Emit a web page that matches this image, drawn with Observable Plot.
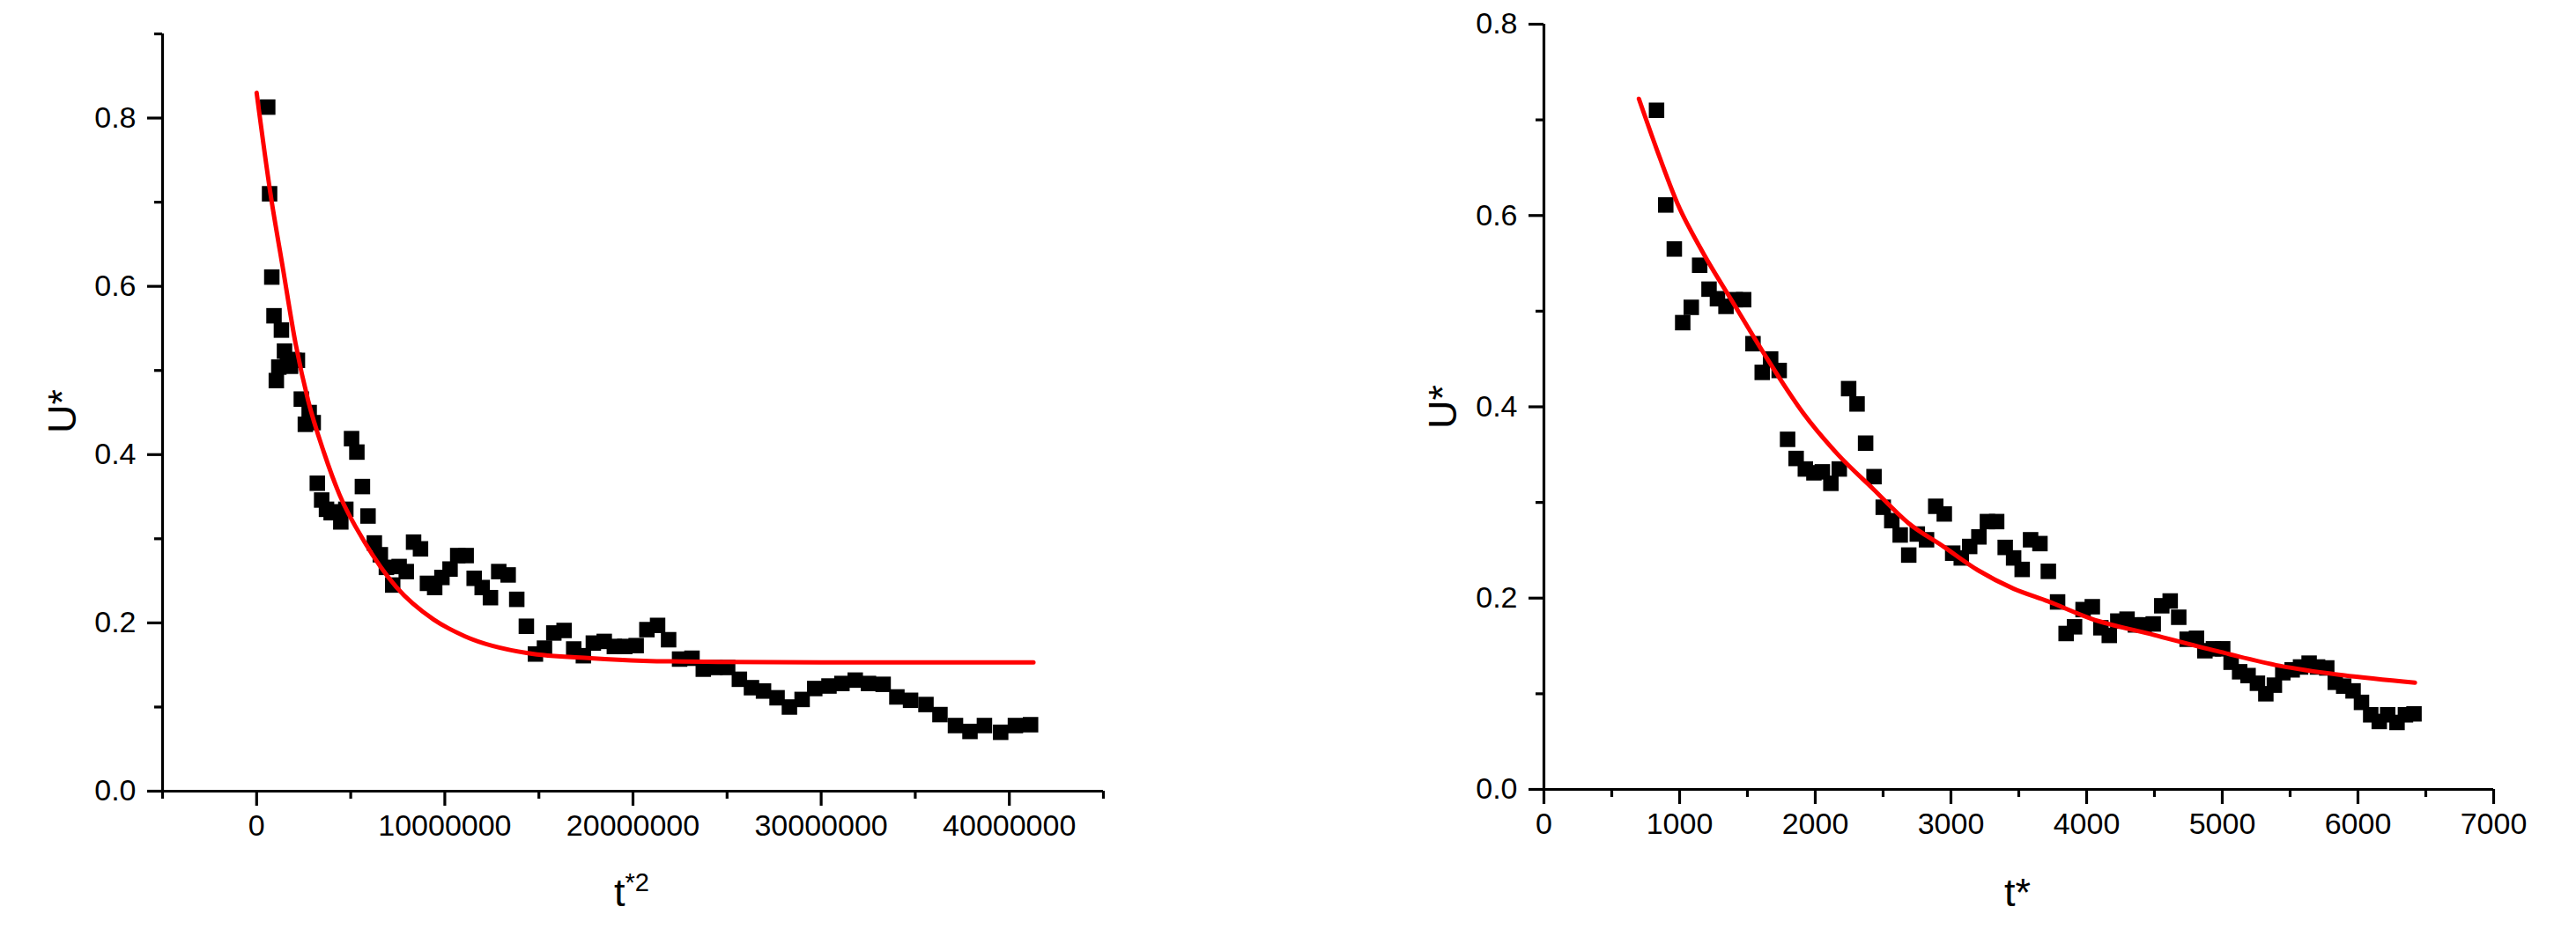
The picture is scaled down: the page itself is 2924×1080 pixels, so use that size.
<!DOCTYPE html>
<html>
<head>
<meta charset="utf-8">
<script src="https://cdn.jsdelivr.net/npm/d3@7"></script>
<script src="https://cdn.jsdelivr.net/npm/@observablehq/plot@0.6"></script>
<style>
  html, body { margin: 0; padding: 0; background: #fff; }
  body { width: 2924px; height: 1080px; position: relative; overflow: hidden; }
  #left, #right { position: absolute; top: 0; }
  #left { left: 0; }
  #right { left: 1500px; }
  svg { display: block; }
</style>
</head>
<body>
<div id="left"></div>
<div id="right"></div>
<script>
// ---- measured data: t* and U* (same series in both panels; left panel uses t*^2 on x) ----
const tStar = [
  767, 830, 898, 961, 1023, 1086, 1148, 1217, 1279, 1342,
  1410, 1472, 1541, 1609, 1671, 1734, 1796, 1859, 1927, 1990,
  2052, 2115, 2177, 2246, 2308, 2371, 2433, 2501, 2564, 2626,
  2689, 2752, 2820, 2888, 2951, 3013, 3076, 3138, 3206, 3269,
  3337, 3400, 3462, 3525, 3587, 3656, 3718, 3786, 3849, 3911,
  3974, 4042, 4105, 4167, 4230, 4298, 4360, 4423, 4491, 4554,
  4616, 4679, 4741, 4810, 4872, 4935, 5003, 5065, 5128, 5190,
  5259, 5321, 5384, 5446, 5515, 5577, 5640, 5702, 5770, 5833,
  5895, 5964, 6026, 6094, 6157, 6219, 6288, 6350, 6413
];
const uStar = [
  0.813, 0.710, 0.611, 0.565, 0.488, 0.504, 0.548, 0.523, 0.513, 0.505,
  0.512, 0.512, 0.466, 0.436, 0.450, 0.438, 0.366, 0.346, 0.335, 0.331,
  0.332, 0.320, 0.335, 0.419, 0.403, 0.362, 0.327, 0.295, 0.281, 0.266,
  0.245, 0.267, 0.261, 0.296, 0.288, 0.247, 0.242, 0.254, 0.264, 0.280,
  0.280, 0.253, 0.242, 0.230, 0.261, 0.257, 0.228, 0.196, 0.163, 0.170,
  0.188, 0.191, 0.169, 0.161, 0.176, 0.178, 0.172, 0.172, 0.173, 0.192,
  0.197, 0.180, 0.157, 0.158, 0.145, 0.147, 0.147, 0.133, 0.123, 0.119,
  0.111, 0.100, 0.109, 0.122, 0.125, 0.128, 0.132, 0.128, 0.127, 0.112,
  0.108, 0.103, 0.091, 0.078, 0.071, 0.078, 0.070, 0.078, 0.079
];

// ---- red fitted curves ----
const fitLeftX = [0, 0.73e6, 1.40e6, 2.07e6, 2.74e6, 3.57e6, 4.41e6, 5.74e6, 7.41e6, 9.41e6,
                  11.08e6, 14.42e6, 17.76e6, 20.56e6, 25e6, 30e6, 35e6, 41.28e6];
const fitLeftU = [0.830, 0.711, 0.621, 0.532, 0.464, 0.403, 0.352, 0.296, 0.243, 0.204,
                  0.184, 0.164, 0.158, 0.155, 0.1535, 0.153, 0.153, 0.153];

const fitRightT = [700, 832, 986, 1167, 1398, 1656, 1913, 2171, 2428, 2686,
                   2944, 3201, 3459, 3716, 4033, 4497, 4961, 5424, 5888, 6420];
const fitRightU = [0.722, 0.669, 0.612, 0.5625, 0.508, 0.448, 0.393, 0.3495, 0.314, 0.2785,
                   0.254, 0.229, 0.210, 0.1966, 0.1785, 0.1615, 0.1446, 0.1292, 0.1194, 0.1117];

// ---- tick values ----
const leftXMajor = [0, 10000000, 20000000, 30000000, 40000000];
const leftXMinor = [-5000000, 5000000, 15000000, 25000000, 35000000, 45000000];
const leftYMajor = [0, 0.2, 0.4, 0.6, 0.8];
const leftYMinor = [0.1, 0.3, 0.5, 0.7, 0.9];
const rightXMajor = [0, 1000, 2000, 3000, 4000, 5000, 6000, 7000];
const rightXMinor = [500, 1500, 2500, 3500, 4500, 5500, 6500];
const rightYMajor = [0, 0.2, 0.4, 0.6, 0.8];
const rightYMinor = [0.1, 0.3, 0.5, 0.7];

// ---- tables built from the arrays ----
const points = tStar.map((t, i) => ({t, u: uStar[i]}));
const fitLeft = fitLeftX.map((x, i) => ({x, u: fitLeftU[i]}));
const fitRight = fitRightT.map((t, i) => ({t, u: fitRightU[i]}));

const FONT = "'Liberation Sans', Arial, Helvetica, sans-serif";
const style = {fontFamily: FONT, fontSize: "34px", color: "#000", background: "#fff", overflow: "visible"};
const AX = 3.2;      // axis stroke width
const SQ_R = 9.9;    // square symbol radius (side ~17.5px)

const left = Plot.plot({
  width: 1300, height: 1080,
  marginLeft: 184, marginRight: 48, marginTop: 38, marginBottom: 182,
  x: {domain: [-5e6, 4.5e7]},
  y: {domain: [0, 0.9]},
  style,
  marks: [
    Plot.dot(points, {x: d => d.t * d.t, y: "u", symbol: "square", r: SQ_R, fill: "#000"}),
    Plot.line(fitLeft, {x: "x", y: "u", stroke: "#ff0000", strokeWidth: 5, curve: "monotone-x"}),
    Plot.ruleX([-5e6], {strokeWidth: AX}),
    Plot.ruleY([0], {strokeWidth: AX}),
    Plot.axisX({ticks: leftXMajor, tickSize: 17, tickPadding: 9, tickFormat: "d", strokeWidth: AX, label: null, fontSize: 34}),
    Plot.axisX({ticks: leftXMinor, tickSize: 9, tickFormat: () => "", strokeWidth: AX, label: null}),
    Plot.axisY({ticks: leftYMajor, tickSize: 17, tickPadding: 13, tickFormat: ".1f", strokeWidth: AX, label: null, fontSize: 34}),
    Plot.axisY({ticks: leftYMinor, tickSize: 9, tickFormat: () => "", strokeWidth: AX, label: null})
  ]
});

const right = Plot.plot({
  width: 1424, height: 1080,
  marginLeft: 252, marginRight: 94, marginTop: 27, marginBottom: 184,
  x: {domain: [0, 7000]},
  y: {domain: [0, 0.8]},
  style,
  marks: [
    Plot.dot(points, {x: "t", y: "u", symbol: "square", r: SQ_R, fill: "#000", clip: true}),
    Plot.line(fitRight, {x: "t", y: "u", stroke: "#ff0000", strokeWidth: 5, curve: "monotone-x"}),
    Plot.ruleX([0], {strokeWidth: AX}),
    Plot.ruleY([0], {strokeWidth: AX}),
    Plot.axisX({ticks: rightXMajor, tickSize: 17, tickPadding: 9, tickFormat: "d", strokeWidth: AX, label: null, fontSize: 34}),
    Plot.axisX({ticks: rightXMinor, tickSize: 9, tickFormat: () => "", strokeWidth: AX, label: null}),
    Plot.axisY({ticks: rightYMajor, tickSize: 17, tickPadding: 13, tickFormat: ".1f", strokeWidth: AX, label: null, fontSize: 34}),
    Plot.axisY({ticks: rightYMinor, tickSize: 9, tickFormat: () => "", strokeWidth: AX, label: null})
  ]
});

document.getElementById("left").appendChild(left);
document.getElementById("right").appendChild(right);

// ---- axis titles (with superscript) ----
function yTitle(svg, x, y) {
  d3.select(svg).append("text")
    .attr("transform", `translate(${x},${y}) rotate(-90)`)
    .attr("text-anchor", "middle")
    .attr("font-family", FONT).attr("font-size", 45).attr("fill", "#000")
    .text("U*");
}
yTitle(left, 86, 467);
yTitle(right, 1653 - 1500, 462);

const tl = d3.select(left).append("text")
  .attr("x", 717).attr("y", 1029)
  .attr("text-anchor", "middle")
  .attr("font-family", FONT).attr("font-size", 45).attr("fill", "#000");
tl.append("tspan").text("t");
tl.append("tspan").attr("dy", -17).attr("font-size", 29).text("*2");

d3.select(right).append("text")
  .attr("x", 2290 - 1500).attr("y", 1029)
  .attr("text-anchor", "middle")
  .attr("font-family", FONT).attr("font-size", 45).attr("fill", "#000")
  .text("t*");
</script>
</body>
</html>
